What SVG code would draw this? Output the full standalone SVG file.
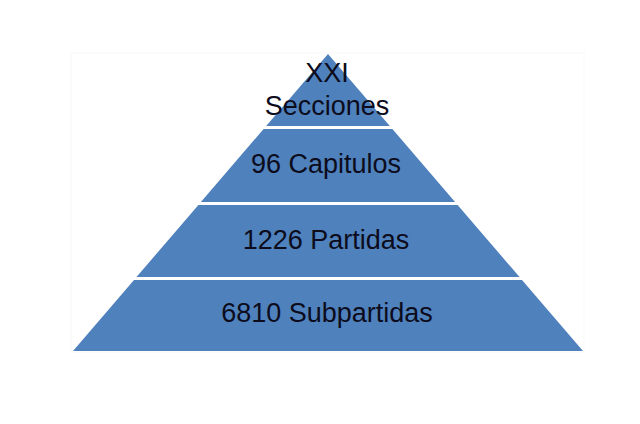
<svg xmlns="http://www.w3.org/2000/svg" width="640" height="424" viewBox="0 0 640 424">
  <style>
    .tier { fill: #4F81BD; }
    .lbl { font-family: "Liberation Sans", Arial, sans-serif; font-size: 27px; fill: #0c0c1c; text-anchor: middle; }
  </style>
  <rect width="640" height="424" fill="#ffffff"/>
  <rect x="71" y="53" width="513" height="299" fill="none" stroke="#f8f8f8" stroke-width="1"/>
  <g id="tier-secciones">
    <polygon class="tier" points="328,54 389.8,126 266.2,126"/>
    <text class="lbl" x="327" y="82">XXI</text>
    <text class="lbl" x="327" y="115">Secciones</text>
  </g>
  <g id="tier-capitulos">
    <polygon class="tier" points="263.6,129 392.4,129 455.1,202 200.9,202"/>
    <text class="lbl" x="326" y="173">96 Capitulos</text>
  </g>
  <g id="tier-partidas">
    <polygon class="tier" points="198.4,205 457.6,205 519.5,277 136.5,277"/>
    <text class="lbl" x="326" y="249">1226 Partidas</text>
  </g>
  <g id="tier-subpartidas">
    <polygon class="tier" points="134,280 522,280 583,351 73,351"/>
    <text class="lbl" x="327" y="322">6810 Subpartidas</text>
  </g>
  <g id="connectors"></g>
</svg>
